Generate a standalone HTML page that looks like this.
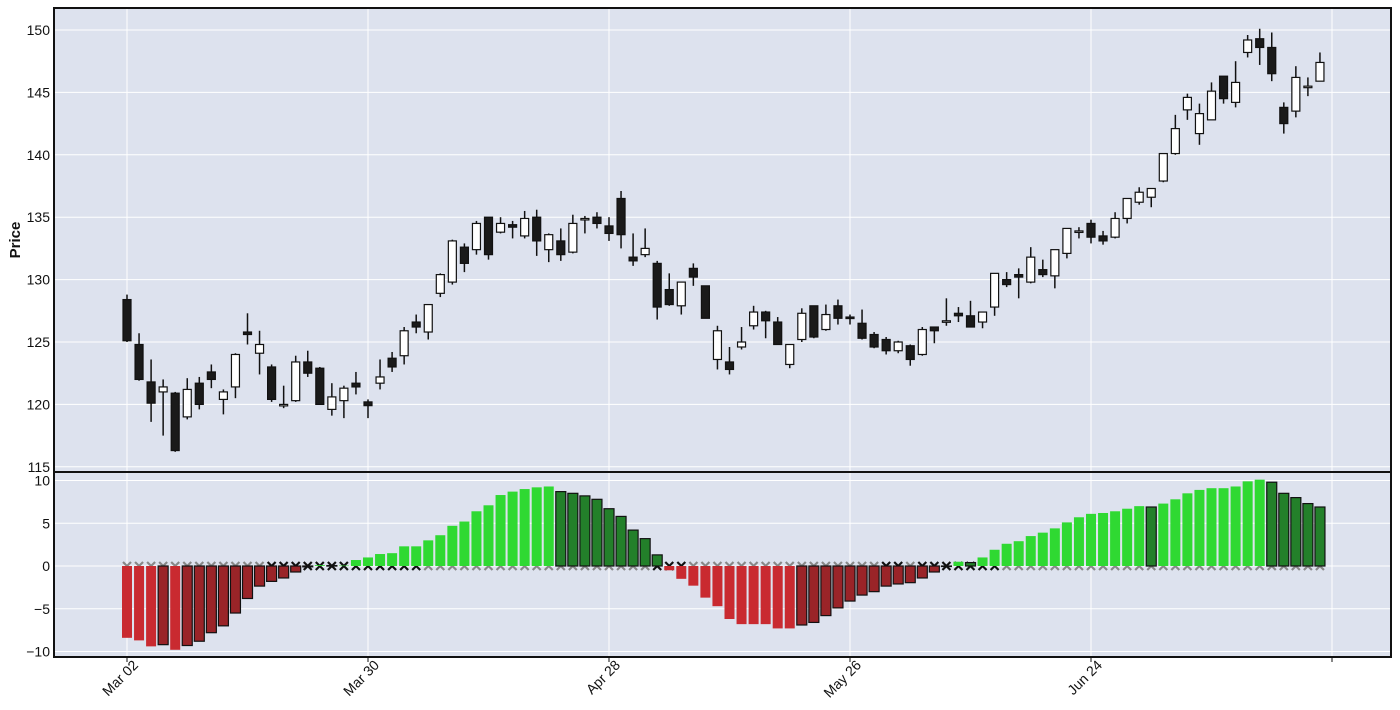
<!DOCTYPE html>
<html><head><meta charset="utf-8"><style>
html,body{margin:0;padding:0;background:#fff;}
svg{display:block;font-family:"Liberation Sans",sans-serif;}
</style></head><body>
<svg id="chart" width="1400" height="710" viewBox="0 0 1400 710" xmlns="http://www.w3.org/2000/svg">
<rect x="54" y="8" width="1337" height="464" fill="#dde2ee"/>
<rect x="54" y="472" width="1337" height="185" fill="#dde2ee"/>
<g id="grid"></g>
<g id="xmarks"></g>
<g id="bars"></g>
<g id="candles"></g>
<rect x="54" y="8" width="1337" height="464" fill="none" stroke="#111" stroke-width="2"/>
<rect x="54" y="472" width="1337" height="185" fill="none" stroke="#111" stroke-width="2"/>
<g id="axes"></g>
<text transform="translate(20,240) rotate(-90)" text-anchor="middle" font-size="15" font-weight="bold" fill="#111">Price</text>
</svg>
<script>
const opens=[128.4,124.8,121.8,121.0,120.9,119.0,121.7,122.6,120.4,121.4,125.8,124.1,123.0,119.9,120.3,123.4,122.9,119.6,120.3,121.7,120.2,121.7,123.7,123.9,126.6,125.8,128.9,129.8,132.6,132.4,135.0,133.8,134.4,133.5,135.0,132.4,133.1,132.2,134.8,135.0,134.3,136.5,131.8,132.0,131.3,129.2,127.9,130.9,129.5,123.6,123.4,124.6,126.3,127.4,126.6,123.2,125.2,127.9,126.0,127.9,127.0,126.5,125.6,125.2,124.3,124.7,124.0,126.2,126.6,127.3,127.1,126.6,127.8,130.0,130.4,129.8,130.8,130.3,132.1,133.8,134.5,133.5,133.4,134.9,136.2,136.6,137.9,140.1,143.6,141.7,142.8,146.3,144.2,148.2,149.3,148.6,143.8,143.5,145.5,145.9];
const highs=[128.8,125.7,123.6,122.0,121.0,122.1,122.2,123.2,121.2,124.1,127.3,125.9,123.2,121.5,123.9,124.3,123.0,121.7,121.5,122.6,120.4,123.6,124.2,126.2,127.2,128.0,130.5,133.2,132.9,134.7,135.0,135.0,134.7,135.5,135.6,133.7,134.1,135.2,135.1,135.4,135.0,137.1,133.7,134.1,131.5,130.5,129.8,131.3,129.5,126.3,124.6,126.2,127.9,127.5,127.0,124.8,127.7,127.9,128.0,128.4,127.2,127.6,125.8,125.4,125.1,124.8,126.2,126.2,128.5,127.8,128.3,127.4,130.5,130.6,130.9,132.6,131.6,132.4,134.1,134.2,134.8,133.9,135.4,136.5,137.4,137.3,140.1,143.2,144.9,144.1,145.8,146.3,147.5,149.6,150.1,149.8,144.2,147.1,146.2,148.2];
const lows=[125.0,121.9,118.6,117.5,116.2,118.8,119.6,121.3,119.2,120.5,124.8,122.4,120.2,119.7,120.2,122.2,120.0,119.1,118.9,120.8,118.9,121.2,122.6,123.2,125.7,125.2,128.6,129.6,130.6,132.0,131.6,133.7,133.3,133.3,131.9,131.4,131.5,132.1,133.7,134.1,133.1,132.5,131.1,131.8,126.8,127.9,127.2,129.5,126.9,122.8,122.4,124.4,126.0,125.3,124.8,122.9,125.0,125.3,125.9,126.4,126.4,125.2,124.5,124.0,124.1,123.1,123.9,124.9,126.3,126.6,126.2,126.1,127.1,129.4,128.5,129.7,130.2,129.3,131.7,133.3,132.9,132.8,133.3,134.5,136.0,135.8,137.8,140.0,142.8,140.8,142.8,144.1,143.8,147.8,147.2,145.9,141.7,143.0,144.7,145.9];
const closes=[125.1,122.0,120.1,121.4,116.3,121.2,120.0,122.0,121.0,124.0,125.6,124.8,120.4,120.0,123.4,122.5,120.0,120.6,121.3,121.4,119.9,122.2,123.0,125.9,126.2,128.0,130.4,133.1,131.3,134.5,132.0,134.5,134.2,134.9,133.1,133.6,132.0,134.5,134.9,134.5,133.7,133.6,131.5,132.5,127.8,128.0,129.8,130.2,126.9,125.9,122.8,125.0,127.4,126.7,124.8,124.8,127.3,125.4,127.2,126.9,126.9,125.3,124.6,124.3,125.0,123.6,126.0,125.9,126.7,127.1,126.2,127.4,130.5,129.6,130.2,131.8,130.4,132.4,134.1,133.9,133.4,133.1,134.9,136.5,137.0,137.3,140.1,142.1,144.6,143.3,145.1,144.5,145.8,149.2,148.6,146.5,142.5,146.2,145.5,147.4];
const momentum=[-8.4,-8.7,-9.4,-9.2,-9.8,-9.3,-8.8,-7.8,-7.0,-5.5,-3.8,-2.35,-1.8,-1.4,-0.7,-0.1,0.1,0.05,0.05,0.7,1.0,1.4,1.5,2.3,2.3,3.0,3.6,4.7,5.2,6.4,7.1,8.3,8.7,9.0,9.2,9.3,8.7,8.5,8.2,7.8,6.7,5.8,4.2,3.2,1.3,-0.5,-1.5,-2.3,-3.7,-4.7,-6.2,-6.8,-6.8,-6.8,-7.3,-7.3,-6.9,-6.6,-5.8,-4.9,-4.1,-3.4,-3.0,-2.35,-2.1,-1.95,-1.4,-0.7,-0.05,0.5,0.4,1.0,1.9,2.6,2.9,3.5,3.9,4.4,5.1,5.7,6.1,6.2,6.4,6.7,7.0,6.9,7.3,7.8,8.5,8.9,9.1,9.1,9.3,9.9,10.1,9.8,8.5,8.0,7.3,6.9];
const squeezeOn=[0,0,0,0,0,0,0,0,0,0,0,0,1,1,1,1,1,1,1,1,1,1,1,1,1,0,0,0,0,0,0,0,0,0,0,0,0,0,0,0,0,0,0,0,1,1,1,0,0,0,0,0,0,0,0,0,0,0,0,0,0,0,0,1,1,0,1,1,1,1,1,1,1,0,0,0,0,0,0,0,0,0,0,0,0,0,0,0,0,0,0,0,0,0,0,0,0,0,0,0];
const tickIdx=[0,20,40,60,80,100];
const tickLabels=["Mar 02","Mar 30","Apr 28","May 26","Jun 24",""];
const priceTicks=[115,120,125,130,135,140,145,150];
const momTicks=[-10,-5,0,5,10];

const NS="http://www.w3.org/2000/svg";
const X=i=>127+12.05*i;
const YP=v=>30+(150-v)*12.48;
const YM=v=>566-v*8.55;
function mk(tag,attrs,parent){const e=document.createElementNS(NS,tag);for(const k in attrs)e.setAttribute(k,attrs[k]);parent.appendChild(e);return e;}
const grid=document.getElementById('grid'),axes=document.getElementById('axes');
priceTicks.forEach(v=>{
  const l=mk('line',{x1:55,x2:1390,y1:YP(v),y2:YP(v),stroke:'#fff','stroke-width':1},grid);
  
  
  const t=mk('text',{x:50,y:YP(v)+5,'text-anchor':'end','font-size':14,fill:'#111'},axes);
  t.textContent=v;
  
  
});
momTicks.forEach(v=>{
  const l=mk('line',{x1:55,x2:1390,y1:YM(v),y2:YM(v),stroke:'#fff','stroke-width':1},grid);
  
  
  const t=mk('text',{x:50,y:YM(v)+5,'text-anchor':'end','font-size':14,fill:'#111'},axes);
  t.textContent=v<0?'\u2212'+(-v):v;
  
  
});
tickIdx.forEach((i,k)=>{
  const l=mk('line',{x1:X(i),x2:X(i),y1:9,y2:656,stroke:'#fff','stroke-width':1},grid);
  
  
  mk('line',{x1:X(i),x2:X(i),y1:657,y2:662,stroke:'#111'},axes);
  const t=mk('text',{x:0,y:0,'text-anchor':'end','font-size':14,fill:'#111',transform:`translate(${X(i)+12},${666}) rotate(-45)`},axes);
  t.textContent=tickLabels[k];
  
  
});
const xm=document.getElementById('xmarks');
squeezeOn.forEach((s,i)=>{
  const c=s?'#111':'#888';const x=X(i),y=566;
  const p=mk('path',{d:`M${x-4} ${y-4}L${x+4} ${y+4}M${x-4} ${y+4}L${x+4} ${y-4}`,stroke:c,'stroke-width':2.2},xm);
  
  
});
const bars=document.getElementById('bars');
momentum.forEach((v,i)=>{
  const prev=i>0?momentum[i-1]:v;
  let fill,stroke='none';
  if(v>=0){ if(v<prev){fill='#23802a';stroke='#111';} else fill='#2fd932'; }
  else { if(v>prev){fill='#9a2428';stroke='#111';} else fill='#c92a30'; }
  const y0=YM(0),y1=YM(v);
  const r=mk('rect',{x:X(i)-5,y:Math.min(y0,y1),width:10,height:Math.max(0.5,Math.abs(y1-y0)),fill:fill,stroke:stroke,'stroke-width':1.2},bars);
  
  
});
const cg=document.getElementById('candles');
opens.forEach((o,i)=>{
  const c=closes[i],x=X(i);const up=c>=o;
  const w=mk('line',{x1:x,x2:x,y1:YP(highs[i]),y2:YP(lows[i]),stroke:'#111','stroke-width':1.5},cg);
  
  
  const top=YP(Math.max(o,c)),bot=YP(Math.min(o,c));
  const b=mk('rect',{x:x-4,y:top,width:8,height:Math.max(1.5,bot-top),fill:up?'#fff':'#1a1a1a',stroke:'#111','stroke-width':1.2},cg);
  
  
});
</script>
</body></html>
